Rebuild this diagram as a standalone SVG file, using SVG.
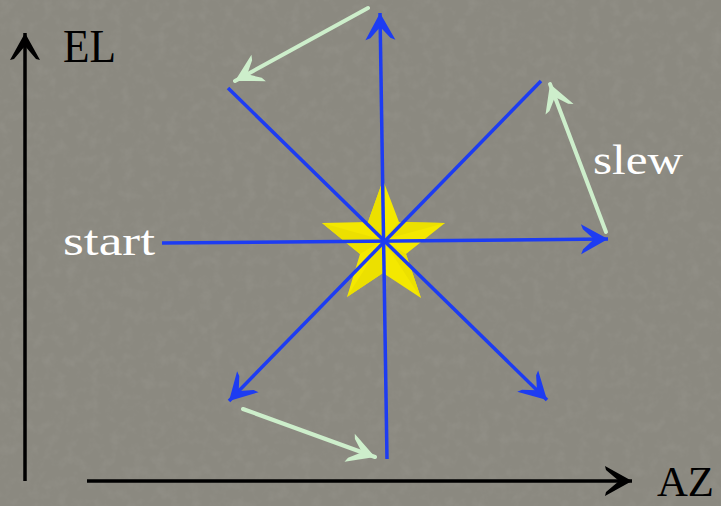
<svg xmlns="http://www.w3.org/2000/svg" width="721" height="506" viewBox="0 0 721 506">
<defs>
<style>
.axis{stroke:#000;stroke-width:3.5;fill:none}
.ray{stroke:#1d3cf2;stroke-width:3.5;fill:none}
.slew{stroke:#cdeecb;stroke-width:4;fill:none;stroke-linecap:round}
.lbl{font-family:"Liberation Serif","Times New Roman",serif}
</style>
<marker id="hBlack" markerUnits="userSpaceOnUse" markerWidth="40" markerHeight="40" viewBox="-30 -20 40 40" refX="0" refY="0" orient="auto">
<path d="M0,0 L-27,-15 L-26,-11 L-13,0 L-26,11 L-27,15 Z" fill="#000"/>
</marker>
<marker id="hBlue" markerUnits="userSpaceOnUse" markerWidth="40" markerHeight="40" viewBox="-30 -20 40 40" refX="0" refY="0" orient="auto">
<path d="M0,0 L-27,-15 L-25,-10 L-14,0 L-25,10 L-27,15 Z" fill="#1d3cf2"/>
</marker>
<marker id="hGreen" markerUnits="userSpaceOnUse" markerWidth="40" markerHeight="40" viewBox="-30 -20 40 40" refX="0" refY="0" orient="auto">
<path d="M0,0 L-27,-15 L-25,-10 L-14,0 L-25,10 L-27,15 Z" fill="#cdeecb"/>
</marker>
<filter id="grain" x="0" y="0" width="100%" height="100%">
<feTurbulence type="fractalNoise" baseFrequency="0.09" numOctaves="3" seed="4"/>
<feColorMatrix type="matrix" values="0 0 0 0 0.45  0 0 0 0 0.44  0 0 0 0 0.41  0 0 0 -1.6 0.9"/>
</filter>
</defs>
<rect width="721" height="506" fill="#8b8980"/>
<rect width="721" height="506" filter="url(#grain)" opacity="0.18"/>

<g id="el-axis">
<line class="axis" x1="25" y1="481" x2="25" y2="33" marker-end="url(#hBlack)"/>
<text class="lbl" x="63" y="62" font-size="47" fill="#000" textLength="53" lengthAdjust="spacingAndGlyphs">EL</text>
</g>
<g id="az-axis">
<line class="axis" x1="87" y1="481" x2="632" y2="481" marker-end="url(#hBlack)"/>
<text class="lbl" x="657" y="496" font-size="42" fill="#000" textLength="57" lengthAdjust="spacingAndGlyphs">AZ</text>
</g>

<g id="star">
<polygon points="383,180 399,222 445,223 406,254 421,298 383,273 347,297 360,254 322,223 368,222" fill="#f4e800"/>
<polygon points="383,180 383,240 368,222" fill="#ece000"/>
<polygon points="322,223 383,240 360,254" fill="#ece000"/>
<polygon points="347,297 383,240 383,273" fill="#ece000"/>
<polygon points="421,298 383,240 406,254" fill="#ece000"/>
<polygon points="445,223 383,240 399,222" fill="#ece000"/>
</g>

<g id="start-label">
<text class="lbl" x="63" y="255" font-size="42" fill="#fff" textLength="92" lengthAdjust="spacingAndGlyphs">start</text>
</g>
<g id="slew-label">
<text class="lbl" x="593" y="174" font-size="42" fill="#fff" textLength="90" lengthAdjust="spacingAndGlyphs">slew</text>
</g>

<g id="connectors">
<line class="ray" x1="162" y1="243" x2="608" y2="239" marker-end="url(#hBlue)"/>
<line class="ray" x1="387" y1="459" x2="380" y2="13" marker-end="url(#hBlue)"/>
<line class="ray" x1="228" y1="88" x2="547" y2="400" marker-end="url(#hBlue)"/>
<line class="ray" x1="541" y1="81" x2="229" y2="401" marker-end="url(#hBlue)"/>
<line class="slew" x1="368" y1="8" x2="235" y2="81" marker-end="url(#hGreen)"/>
<line class="slew" x1="606" y1="232" x2="550" y2="84" marker-end="url(#hGreen)"/>
<line class="slew" x1="243" y1="409" x2="375" y2="457" marker-end="url(#hGreen)"/>
</g>
</svg>
